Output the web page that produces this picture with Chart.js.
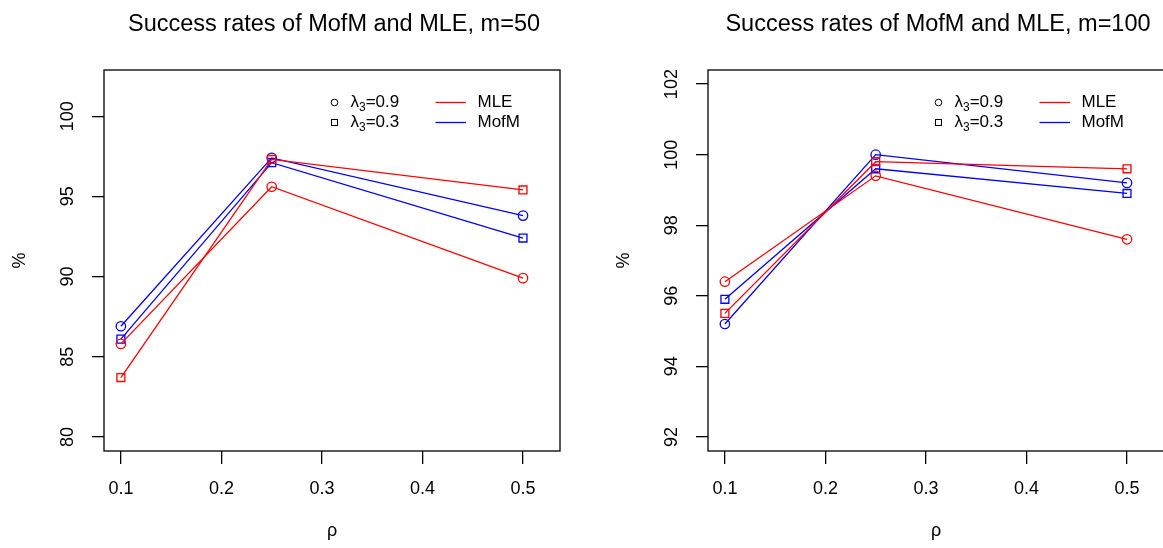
<!DOCTYPE html>
<html>
<head>
<meta charset="utf-8">
<script src="https://cdn.jsdelivr.net/npm/chart.js@4.4.0/dist/chart.umd.min.js"></script>
<style>
  body { margin: 0; background: #fff; width: 1163px; height: 548px; overflow: hidden; position: relative; }
  .panel { position: absolute; top: 0; width: 605px; height: 548px; }
</style>
</head>
<body>
<div class="panel" style="left:0"><canvas id="chart50" width="605" height="548"></canvas></div>
<div class="panel" style="left:604px"><canvas id="chart100" width="605" height="548"></canvas></div>
<script>
// x values (rho) and axis ticks
const rho = [0.1, 0.25, 0.5];
const xTicks = [0.1, 0.2, 0.3, 0.4, 0.5];

// m = 50
const mle09_m50 = [85.8, 95.6, 89.9];
const mle03_m50 = [83.7, 97.3, 95.4];
const mofm09_m50 = [86.9, 97.4, 93.8];
const mofm03_m50 = [86.1, 97.1, 92.4];
const yTicks50 = [80, 85, 90, 95, 100];

// m = 100
const mle09_m100 = [96.4, 99.4, 97.6];
const mle03_m100 = [95.5, 99.8, 99.6];
const mofm09_m100 = [95.2, 100.0, 99.2];
const mofm03_m100 = [95.9, 99.6, 98.9];
const yTicks100 = [92, 94, 96, 98, 100, 102];

const FONT = "'Liberation Sans', Arial, sans-serif";
const RED = "#ff0000";
const BLUE = "#0000ff";

function series(label, values, color, style) {
  return {
    label: label,
    data: values.map((v, i) => ({ x: rho[i], y: v })),
    borderColor: color,
    borderWidth: 1.3,
    pointStyle: style,
    pointRadius: style === "rect" ? 5.6 : 4.7,
    pointBorderColor: color,
    pointBackgroundColor: "rgba(0,0,0,0)",
    pointBorderWidth: 1.3,
    fill: false,
    tension: 0,
  };
}

function drawLambda(ctx, x, y, val) {
  ctx.textAlign = "left";
  ctx.textBaseline = "middle";
  ctx.font = "17px " + FONT;
  ctx.fillText("λ", x, y);
  let w = ctx.measureText("λ").width;
  ctx.font = "12px " + FONT;
  ctx.fillText("3", x + w, y + 5);
  w += ctx.measureText("3").width;
  ctx.font = "17px " + FONT;
  ctx.fillText("=" + val, x + w, y);
}

const decorations = {
  id: "decorations",
  afterDraw(chart, args, opts) {
    const ctx = chart.ctx;
    const a = chart.chartArea;
    const ys = chart.scales.y;
    ctx.save();
    ctx.fillStyle = "#000";
    ctx.strokeStyle = "#000";

    // box
    ctx.lineWidth = 1.3;
    ctx.strokeRect(a.left, a.top, a.right - a.left, a.bottom - a.top);

    // rotated y tick labels
    ctx.font = "18px " + FONT;
    ctx.textAlign = "center";
    ctx.textBaseline = "middle";
    ys.ticks.forEach((t) => {
      ctx.save();
      ctx.translate(a.left - 36, ys.getPixelForValue(t.value));
      ctx.rotate(-Math.PI / 2);
      ctx.fillText(String(t.value), 0, 0);
      ctx.restore();
    });

    // y title
    ctx.save();
    ctx.translate(20.5, (a.top + a.bottom) / 2);
    ctx.rotate(-Math.PI / 2);
    ctx.fillText("%", 0, 0);
    ctx.restore();

    // x title
    ctx.textBaseline = "alphabetic";
    ctx.fillText("ρ", (a.left + a.right) / 2, 536);

    // main title
    ctx.font = "23.5px " + FONT;
    ctx.fillText(opts.title, (a.left + a.right) / 2 + 2, 31);

    // legend
    ctx.lineWidth = 1;
    ctx.beginPath();
    ctx.arc(334.5, 102.5, 3.3, 0, Math.PI * 2);
    ctx.stroke();
    ctx.strokeRect(331.5, 119.5, 6, 6);
    drawLambda(ctx, 350.5, 102.5, "0.9");
    drawLambda(ctx, 350.5, 122.5, "0.3");

    ctx.lineWidth = 1.3;
    ctx.strokeStyle = RED;
    ctx.beginPath();
    ctx.moveTo(435.5, 102.5);
    ctx.lineTo(466, 102.5);
    ctx.stroke();
    ctx.strokeStyle = BLUE;
    ctx.beginPath();
    ctx.moveTo(435.5, 122.5);
    ctx.lineTo(466, 122.5);
    ctx.stroke();

    ctx.font = "17px " + FONT;
    ctx.textAlign = "left";
    ctx.textBaseline = "middle";
    ctx.fillText("MLE", 477.5, 102.5);
    ctx.fillText("MofM", 477.5, 122.5);
    ctx.restore();
  },
};

function makeChart(id, title, yMin, yMax, yTicks, mle09, mle03, mofm09, mofm03) {
  return new Chart(document.getElementById(id), {
    type: "line",
    data: {
      datasets: [
        series("MLE 0.9", mle09, RED, "circle"),
        series("MLE 0.3", mle03, RED, "rect"),
        series("MofM 0.9", mofm09, BLUE, "circle"),
        series("MofM 0.3", mofm03, BLUE, "rect"),
      ],
    },
    options: {
      responsive: false,
      animation: false,
      devicePixelRatio: 1,
      layout: { padding: { left: 0, top: 70, right: 45, bottom: 0 } },
      plugins: {
        legend: { display: false },
        title: { display: false },
        tooltip: { enabled: false },
        decorations: { title: title },
      },
      scales: {
        x: {
          type: "linear",
          min: 0.0832,
          max: 0.5368,
          afterBuildTicks: (s) => { s.ticks = xTicks.map((v) => ({ value: v })); },
          afterFit: (s) => { s.height = 97; },
          border: { display: false },
          grid: { drawOnChartArea: false, drawTicks: true, tickLength: 13, color: "#000", lineWidth: 1.3 },
          ticks: {
            color: "#000",
            font: { family: FONT, size: 18 },
            padding: 14,
            maxRotation: 0,
            callback: (v) => v.toFixed(1),
          },
        },
        y: {
          type: "linear",
          min: yMin,
          max: yMax,
          afterBuildTicks: (s) => { s.ticks = yTicks.map((v) => ({ value: v })); },
          afterFit: (s) => { s.width = 104; },
          border: { display: false },
          grid: { drawOnChartArea: false, drawTicks: true, tickLength: 12, color: "#000", lineWidth: 1.3 },
          ticks: { display: false },
        },
      },
    },
    plugins: [decorations],
  });
}

makeChart("chart50", "Success rates of MofM and MLE, m=50", 79.12, 102.88, yTicks50,
  mle09_m50, mle03_m50, mofm09_m50, mofm03_m50);
makeChart("chart100", "Success rates of MofM and MLE, m=100", 91.6, 102.4, yTicks100,
  mle09_m100, mle03_m100, mofm09_m100, mofm03_m100);
</script>
</body>
</html>
